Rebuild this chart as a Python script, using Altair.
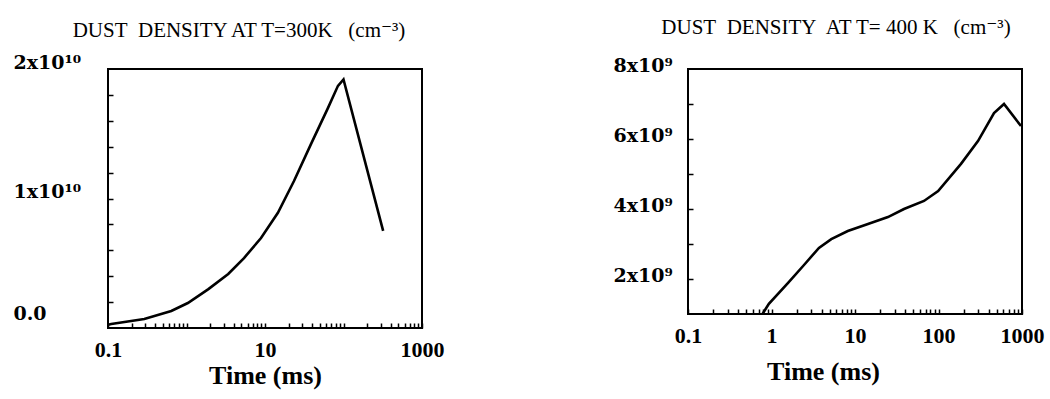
import altair as alt
import pandas as pd

FONT = "Liberation Serif, DejaVu Serif"
YFONT = "DejaVu Serif"

# ---- data ----
left_t = [0.1, 0.11, 0.29, 0.64, 1.04, 1.9, 3.4, 5.4, 8.9, 14.6, 23.4, 38.5, 63.5, 85, 100, 320]
left_n = [2.5e8, 3.1e8, 7.0e8, 1.31e9, 1.93e9, 3.0e9, 4.17e9, 5.4e9, 6.95e9, 8.9e9,
          1.135e10, 1.42e10, 1.70e10, 1.87e10, 1.92e10, 7.5e9]

right_t = [0.78, 0.93, 1.58, 2.45, 3.7, 5.2, 8.2, 14.3, 24.8, 38.6, 67, 99, 186, 297, 462, 609, 972]
right_n = [1.0e9, 1.29e9, 1.89e9, 2.4e9, 2.89e9, 3.14e9, 3.37e9, 3.57e9, 3.77e9, 4.0e9,
           4.23e9, 4.51e9, 5.29e9, 5.94e9, 6.74e9, 7.0e9, 6.37e9]

left_title = "DUST\u00a0 DENSITY AT T=300K \u00a0 (cm\u207b\u00b3)"
right_title = "DUST\u00a0 DENSITY\u00a0 AT T= 400 K \u00a0 (cm\u207b\u00b3)"
x_title = "Time (ms)"

left_x_labels = [0.1, 10, 1000]
right_x_labels = [0.1, 1, 10, 100, 1000]
left_y_labels = [0, 1e10, 2e10]
left_y_text = ["0.0", "1x10\u00b9\u2070", "2x10\u00b9\u2070"]
right_y_labels = [2e9, 4e9, 6e9, 8e9]
right_y_text = ["2x10\u2079", "4x10\u2079", "6x10\u2079", "8x10\u2079"]

x_minor = [0.1, 0.2, 0.3, 0.4, 0.5, 0.6, 0.7, 0.8, 0.9,
           1, 2, 3, 4, 5, 6, 7, 8, 9,
           10, 20, 30, 40, 50, 60, 70, 80, 90,
           100, 200, 300, 400, 500, 600, 700, 800, 900, 1000]
left_y_inner = [2e9, 4e9, 6e9, 8e9, 1e10, 1.2e10, 1.4e10, 1.6e10, 1.8e10]
right_y_inner = [2e9, 3e9, 4e9, 5e9, 6e9, 7e9]


def label_expr(vals, texts):
    expr = "''"
    for v, t in zip(vals, texts):
        expr = f"abs(datum.value - {v}) < 1 ? '{t}' : " + expr
    return expr


def panel(t, n, ydom, yvals, ytexts, yinner, xvals, W, H, title, tdx, toff,
          ylab_pad, ylab_off, xlab_pad, xtitle_x, xtitle_y):
    df = pd.DataFrame({"t": t, "n": n})
    xs = alt.Scale(type="log", domain=[0.1, 1000], nice=False)
    ys = alt.Scale(domain=ydom, nice=False, zero=False)
    base = alt.Chart(df)
    line = base.mark_line(color="black", strokeWidth=2.6, clip=True).encode(
        x=alt.X("t:Q", scale=xs, axis=alt.Axis(
            values=xvals, format="~g", ticks=False, domain=False, grid=False,
            labelFont=FONT, labelFontSize=22, labelFontWeight="bold", labelColor="black",
            labelPadding=xlab_pad, labelFlush=False, labelOverlap=False,
            title=x_title, titleFont=FONT, titleFontSize=26, titleFontWeight="bold",
            titleColor="black", titleX=xtitle_x, titleY=xtitle_y,
            titleBaseline="alphabetic", titleAlign="center")),
        y=alt.Y("n:Q", scale=ys, axis=alt.Axis(
            values=yvals, labelExpr=label_expr(yvals, ytexts), ticks=False,
            domain=False, grid=False, labelFont=YFONT, labelFontSize=19,
            labelFontWeight="bold", labelColor="black", labelAlign="left",
            labelBaseline="middle", labelPadding=ylab_pad, labelOffset=ylab_off,
            labelFlush=False, labelOverlap=False, title=None)),
    )
    ticks = base.mark_line(opacity=0).encode(
        x=alt.X("t:Q", scale=xs, axis=alt.Axis(
            orient="top", offset=-H, values=x_minor, labels=False, domain=False,
            grid=False, ticks=True, tickSize=5, tickWidth=1.5, tickColor="black",
            title=None)),
        y=alt.Y("n:Q", scale=ys, axis=alt.Axis(
            orient="right", offset=-W, values=yinner, labels=False, domain=False,
            grid=False, ticks=True, tickSize=5, tickWidth=1.5, tickColor="black",
            title=None)),
    )
    return alt.layer(line, ticks).resolve_axis(x="independent", y="independent").properties(
        width=W, height=H,
        title=alt.TitleParams(text=title, font=FONT, fontSize=21, fontWeight="normal",
                              color="black", frame="group", offset=toff, anchor="middle",
                              dx=tdx),
    )


left_off = {"condition": {"test": "datum.value == 0", "value": -15}, "value": -7}
right_off = -4

left = panel(left_t, left_n, [0, 2e10], left_y_labels, left_y_text, left_y_inner,
             left_x_labels, 314, 259, left_title, -26, 12, 95, left_off, 11, 157, 55)
right = panel(right_t, right_n, [1e9, 8e9], right_y_labels, right_y_text, right_y_inner,
              right_x_labels, 334, 245, right_title, -19, 18, 75, right_off, 11, 135, 65)

chart = alt.hconcat(left, right, spacing=167).properties(
    padding={"left": 12, "top": 16, "right": 5, "bottom": 5},
    background="white",
).configure_view(stroke="black", strokeWidth=2)

chart.save("out.html", embed_options={"renderer": "svg", "actions": False})
